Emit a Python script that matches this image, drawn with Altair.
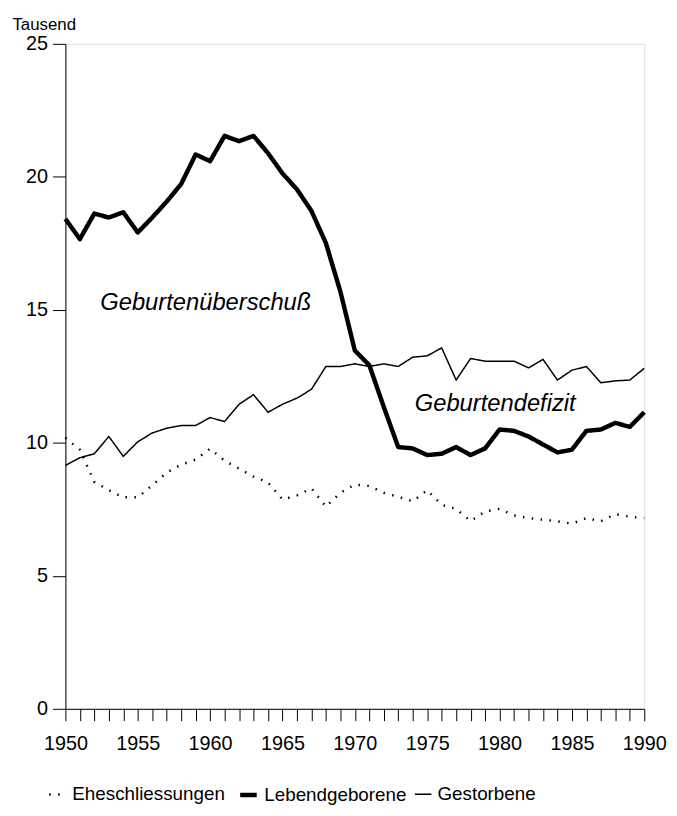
import altair as alt
import pandas as pd

years = list(range(1950, 1991))

eheschliessungen = [10.19, 9.74, 8.53, 8.22, 7.95, 7.95, 8.40, 8.88, 9.18, 9.37,
                    9.78, 9.33, 9.03, 8.73, 8.51, 7.87, 8.02, 8.29, 7.60, 8.12,
                    8.43, 8.38, 8.12, 7.97, 7.80, 8.22, 7.67, 7.52, 7.06, 7.42,
                    7.52, 7.27, 7.17, 7.11, 7.05, 6.96, 7.17, 7.05, 7.32, 7.22,
                    7.17]
lebendgeborene = [18.42, 17.66, 18.62, 18.47, 18.67, 17.91, 18.47, 19.07, 19.73, 20.84,
                  20.59, 21.54, 21.34, 21.54, 20.89, 20.13, 19.53, 18.72, 17.51, 15.69,
                  13.47, 12.92, 11.35, 9.84, 9.79, 9.54, 9.59, 9.84, 9.54, 9.79,
                  10.50, 10.45, 10.24, 9.94, 9.64, 9.74, 10.45, 10.50, 10.75, 10.60,
                  11.15]
gestorbene = [9.15, 9.44, 9.59, 10.24, 9.49, 10.04, 10.37, 10.55, 10.65, 10.65,
              10.95, 10.80, 11.45, 11.81, 11.15, 11.45, 11.68, 12.01, 12.87, 12.87,
              12.97, 12.87, 12.97, 12.87, 13.22, 13.27, 13.57, 12.36, 13.17, 13.07,
              13.07, 13.07, 12.82, 13.14, 12.36, 12.73, 12.87, 12.26, 12.33, 12.36,
              12.80]

series_names = ["Eheschliessungen", "Lebendgeborene", "Gestorbene"]

annot_text = ["Geburtenüberschuß", "Geburtendefizit"]
annot_year = [1959.7, 1979.7]
annot_value = [15.25, 11.45]

rows = []
for name, vals in zip(series_names, [eheschliessungen, lebendgeborene, gestorbene]):
    for y, v in zip(years, vals):
        rows.append({"Jahr": y, "Wert": v, "Reihe": name})
df = pd.DataFrame(rows)
ann = pd.DataFrame({"Jahr": annot_year, "Wert": annot_value, "Text": annot_text})

FONT = "Liberation Sans"

x_enc = alt.X("Jahr:Q",
              scale=alt.Scale(domain=[1950, 1990], nice=False, zero=False),
              axis=alt.Axis(values=years, tickCount=60,
                            labelExpr="datum.value % 5 === 0 ? datum.value : ''",
                            title=None, grid=False, tickSize=12, tickColor="black",
                            domainColor="black", labelColor="black", labelFontSize=20,
                            labelFont=FONT, labelPadding=13, labelFlush=False,
                            labelOverlap=False))
y_enc = alt.Y("Wert:Q",
              scale=alt.Scale(domain=[0, 25], nice=False),
              axis=alt.Axis(values=[0, 5, 10, 15, 20, 25], title="Tausend", titleAngle=0,
                            titleAlign="left", titleBaseline="alphabetic",
                            titleX=-54, titleY=-15, titleFontSize=17,
                            titleFontWeight="normal", titleFont=FONT, titleColor="black",
                            grid=False, tickSize=13, tickColor="black", domainColor="black",
                            labelColor="black", labelFontSize=20, labelFont=FONT,
                            labelPadding=5))

lines = alt.Chart(df).mark_line(strokeJoin="round").encode(
    x=x_enc,
    y=y_enc,
    color=alt.Color("Reihe:N", scale=alt.Scale(domain=series_names,
                                                range=["black", "black", "black"]),
                    legend=alt.Legend(title=None, orient="none", direction="horizontal",
                                      legendX=-18, legendY=748, symbolType="stroke",
                                      symbolSize=280, labelFontSize=19, labelFont=FONT,
                                      labelColor="black", columnPadding=5, labelOffset=5)),
    strokeDash=alt.StrokeDash("Reihe:N", scale=alt.Scale(domain=series_names,
                                                          range=[[1.5, 7.5], [1, 0], [1, 0]]),
                              legend=alt.Legend(title=None)),
    strokeWidth=alt.StrokeWidth("Reihe:N", scale=alt.Scale(type="ordinal",
                                                            domain=series_names,
                                                            range=[2.5, 4.5, 1.5]),
                                legend=alt.Legend(title=None)),
    detail="Reihe:N",
)

texts = alt.Chart(ann).mark_text(fontSize=24, fontStyle="italic", font=FONT,
                                 color="black").encode(
    x=alt.X("Jahr:Q"), y=alt.Y("Wert:Q"), text="Text:N")

chart = alt.layer(lines, texts).properties(
    width=585, height=672,
    autosize=alt.AutoSizeParams(type="none"),
    padding={"left": 58, "top": 32, "right": 25, "bottom": 96},
).configure_view(stroke=None).configure(background="white")

chart.save("out.html", embed_options={"renderer": "svg", "actions": False})
